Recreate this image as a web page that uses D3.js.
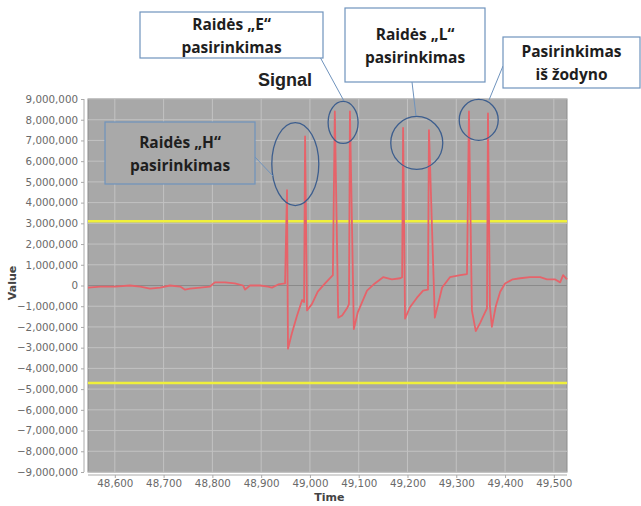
<!DOCTYPE html>
<html>
<head>
<meta charset="utf-8">
<script src="https://cdn.jsdelivr.net/npm/d3@7"></script>
<style>
  body { margin: 0; background: #fff; }
  svg { display: block; }
</style>
</head>
<body>
<svg width="641" height="506"></svg>
<script>
// signal samples: time and value (in millions)
const times = [48545, 48570, 48600, 48631, 48652, 48672, 48693, 48713, 48734, 48744,
  48754, 48775, 48795, 48805, 48826, 48846, 48863, 48867, 48877, 48898,
  48914, 48922, 48935, 48949, 48953, 48955, 48963, 48973, 48984, 48988,
  48990, 48994, 49004, 49016, 49031, 49047, 49051, 49058, 49066, 49076,
  49080, 49082, 49090, 49098, 49107, 49117, 49133, 49150, 49168, 49185,
  49189, 49191, 49195, 49205, 49219, 49232, 49242, 49244, 49256, 49271,
  49287, 49308, 49322, 49326, 49332, 49340, 49349, 49359, 49363, 49365,
  49369, 49373, 49381, 49390, 49400, 49416, 49431, 49451, 49472, 49486,
  49502, 49513, 49519, 49527];
const values = [-0.1, -0.05, -0.05, 0.0, -0.05, -0.15, -0.1, 0.0, -0.05, -0.2,
  -0.15, -0.1, -0.05, 0.15, 0.15, 0.1, 0.0, -0.2, 0.0, 0.0,
  -0.05, -0.1, 0.05, 0.1, 4.6, -3.05, -2.3, -1.5, -0.7, -0.8,
  7.2, -1.2, -0.9, -0.3, 0.1, 0.5, 8.4, -1.55, -1.45, -1.1,
  -0.9, 8.4, -2.1, -1.3, -0.8, -0.25, 0.1, 0.4, 0.3, 0.35,
  0.4, 7.6, -1.6, -1.05, -0.6, -0.25, -0.2, 7.5, -1.55, -0.1,
  0.4, 0.5, 0.55, 8.4, -1.2, -2.2, -1.8, -1.3, -1.1, 8.3,
  -1.0, -2.0, -1.0, -0.3, 0.1, 0.3, 0.35, 0.4, 0.4, 0.3,
  0.3, 0.15, 0.5, 0.3];

// threshold lines (millions)
const thresholds = [3.1, -4.7];

const xTicks = [48600, 48700, 48800, 48900, 49000, 49100, 49200, 49300, 49400, 49500];
const yTicks = d3.range(-9, 10, 1);

// callouts: text lines, box, ellipse around the spikes, connector
const callouts = [
  { lines: ['Raidės „H“', 'pasirinkimas'], box: [105, 122, 150, 62], fill: '#a9a9a9',
    ell: [48970, 5.86, 23.5, 41.5], link: [255, 157, 273, 176] },
  { lines: ['Raidės „E“', 'pasirinkimas'], box: [140, 12, 183, 46], fill: '#fff',
    ell: [49068, 7.87, 15, 21], link: [320, 57, 344, 101] },
  { lines: ['Raidės „L“', 'pasirinkimas'], box: [345, 8, 140, 74], fill: '#fff',
    ell: [49219, 6.88, 26, 26.5], link: [412, 82, 416, 116] },
  { lines: ['Pasirinkimas', 'iš žodyno'], box: [503, 37, 137, 51], fill: '#fff',
    ell: [49346, 7.99, 19.5, 20.5], link: [503, 66, 489, 100] }
];

const svg = d3.select('svg');
const margin = { left: 88, top: 99 };
const w = 479, h = 373;

const x = d3.scaleLinear().domain([48545, 49527]).range([margin.left, margin.left + w]);
const y = d3.scaleLinear().domain([-9, 9]).range([margin.top + h, margin.top]);

// plot background
svg.append('rect')
  .attr('x', margin.left).attr('y', margin.top)
  .attr('width', w).attr('height', h)
  .attr('fill', '#a8a8a8').attr('stroke', '#8c8c8c');

// grid
svg.append('g').selectAll('line').data(yTicks).join('line')
  .attr('x1', margin.left).attr('x2', margin.left + w)
  .attr('y1', d => y(d)).attr('y2', d => y(d))
  .attr('stroke', d => d === 0 ? '#8a8a8a' : '#c2c2c2')
  .attr('stroke-width', 1);
svg.append('g').selectAll('line').data(xTicks).join('line')
  .attr('x1', d => x(d)).attr('x2', d => x(d))
  .attr('y1', margin.top).attr('y2', margin.top + h)
  .attr('stroke', '#c2c2c2');

// axes
const fmt = d3.format(',');
const yAxis = svg.append('g')
  .attr('transform', `translate(${margin.left - 4},0)`)
  .call(d3.axisLeft(y).tickValues(yTicks).tickSize(3).tickPadding(3)
    .tickFormat(d => fmt(Math.round(d * 1e6))));
const xAxis = svg.append('g')
  .attr('transform', `translate(0,${margin.top + h + 3})`)
  .call(d3.axisBottom(x).tickValues(xTicks).tickSize(3).tickPadding(2)
    .tickFormat(fmt));
[yAxis, xAxis].forEach(a => {
  a.selectAll('path, line').attr('stroke', '#aaa');
  a.selectAll('text').attr('fill', '#6a6a6a')
    .style('font-family', 'DejaVu Sans').style('font-size', '10.3px');
});
xAxis.select('.domain').attr('d', `M${margin.left},0H${margin.left + w}`);
yAxis.select('.domain').attr('d', `M0,${margin.top}V${margin.top + h}`);

// axis titles and chart title
svg.append('text').text('Time')
  .attr('x', x(49040)).attr('y', 501).attr('text-anchor', 'middle')
  .style('font-family', 'DejaVu Sans').style('font-weight', 'bold')
  .style('font-size', '11px').attr('fill', '#444');
svg.append('text').text('Value')
  .attr('transform', 'translate(16,283) rotate(-90)').attr('text-anchor', 'middle')
  .style('font-family', 'DejaVu Sans').style('font-weight', 'bold')
  .style('font-size', '11px').attr('fill', '#444');
svg.append('text').text('Signal')
  .attr('x', 285).attr('y', 86).attr('text-anchor', 'middle')
  .style('font-family', 'Liberation Sans').style('font-weight', 'bold')
  .style('font-size', '18px').attr('fill', '#222');

// thresholds
svg.append('g').selectAll('line').data(thresholds).join('line')
  .attr('x1', margin.left).attr('x2', margin.left + w)
  .attr('y1', d => y(d)).attr('y2', d => y(d))
  .attr('stroke', '#f0f03a').attr('stroke-width', 2.5);

// signal line
const line = d3.line().x(d => x(d[0])).y(d => y(d[1]));
svg.append('path')
  .datum(d3.zip(times, values))
  .attr('d', line)
  .attr('fill', 'none')
  .attr('stroke', '#e6636a')
  .attr('stroke-width', 1.8)
  .attr('stroke-linejoin', 'round');

// callouts
const cg = svg.append('g');
callouts.forEach(c => {
  cg.append('ellipse')
    .attr('cx', x(c.ell[0])).attr('cy', y(c.ell[1]))
    .attr('rx', c.ell[2]).attr('ry', c.ell[3])
    .attr('fill', 'none').attr('stroke', '#3d5e8e').attr('stroke-width', 1.3);
  cg.append('line')
    .attr('x1', c.link[0]).attr('y1', c.link[1])
    .attr('x2', c.link[2]).attr('y2', c.link[3])
    .attr('stroke', '#6f93bd').attr('stroke-width', 1);
  cg.append('rect')
    .attr('x', c.box[0]).attr('y', c.box[1])
    .attr('width', c.box[2]).attr('height', c.box[3])
    .attr('fill', c.fill).attr('stroke', '#6f93bd').attr('stroke-width', 1.2);
  const cx = c.box[0] + c.box[2] / 2;
  const cy = c.box[1] + c.box[3] / 2;
  c.lines.forEach((t, i) => {
    cg.append('text').text(t)
      .attr('x', cx).attr('y', cy + (i - 0.5) * 23 + 6)
      .attr('text-anchor', 'middle')
      .style('font-family', 'Open Sans').style('font-weight', 'bold')
      .style('font-size', '15.5px').attr('fill', '#1e1e1e');
  });
});
</script>
</body>
</html>
